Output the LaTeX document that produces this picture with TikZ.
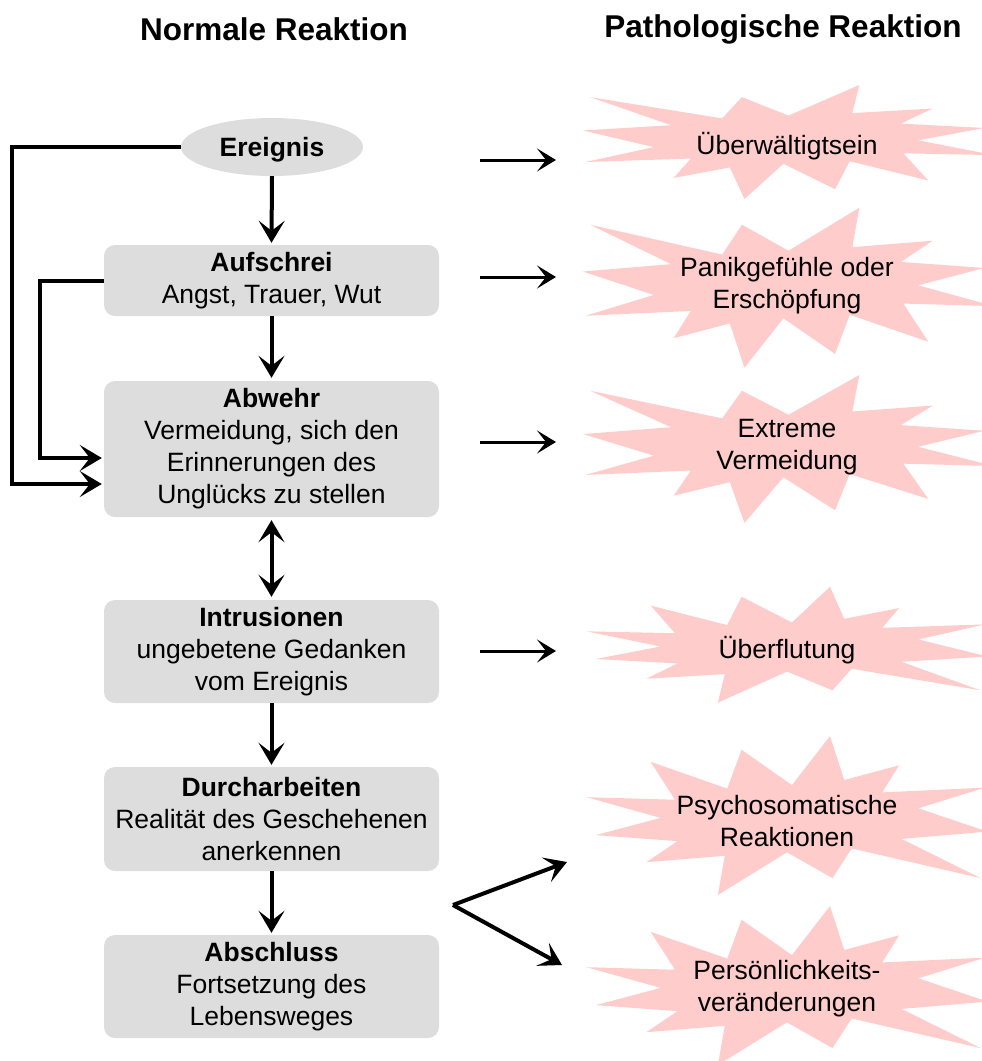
\documentclass[tikz,border=0pt]{standalone}
\usepackage{fontspec}
\setmainfont{Liberation Sans}
\usetikzlibrary{arrows.meta,shapes.geometric}
\definecolor{boxgray}{RGB}{221,221,221}
\definecolor{burstpink}{RGB}{255,204,204}
\tikzset{
  burst/.pic={\fill[burstpink] (108,58) -- (145.22,0) -- (141.55,53.25) -- (183.80,44.57) -- (167.02,73.15) -- (210.97,81.37) -- (176.07,104.75) -- (216,132.90) -- (168.37,129.42) -- (181.45,180.95) -- (140.20,144.57) -- (132.47,197.37) -- (105.32,149.35) -- (84.85,216) -- (77.15,156.27) -- (47.62,176.17) -- (56.67,139.37) -- (1.35,145.87) -- (37.22,117.75) -- (0,86.15) -- (46.27,76.17) -- (3.70,22.95) -- (73.12,63.20) -- (83.52,22.95) -- cycle;},
  stagebox/.style={rectangle, rounded corners=11pt, fill=boxgray, inner sep=0pt, minimum width=335pt, align=center, font=\fontsize{26.5}{32}\selectfont},
  bursttext/.style={align=center, inner sep=0pt, font=\fontsize{26.5}{32}\selectfont},
  header/.style={inner sep=0pt, font=\fontsize{31.5}{36}\selectfont\bfseries},
  flow/.style={line width=4pt, -{Stealth[length=22pt,width=26pt,inset=10pt]}},
  side/.style={line width=3pt, -{Stealth[length=19pt,width=23pt,inset=9pt]}},
}
\begin{document}
\begin{tikzpicture}[x=1pt,y=-1pt]
\useasboundingbox (0,0) rectangle (982,1061);
\clip (0,0) rectangle (982,1061);

% headers
\node[header] (h1) at (274,29) {Normale Reaktion};
\node[header] (h2) at (783,29) {Pathologische Reaktion};

% starbursts
\pic[shift={(583,85)}, xscale=1.90278, yscale=0.52778] {burst};
\pic[shift={(583,207.7)}, xscale=1.90278, yscale=0.74074] {burst};
\pic[shift={(583,375)}, xscale=1.90278, yscale=0.68519] {burst};
\pic[shift={(987.5,702.7)}, xscale=-1.85648, yscale=-0.53704] {burst};
\pic[shift={(987.5,895)}, xscale=-1.85648, yscale=-0.73611] {burst};
\pic[shift={(987.5,1065)}, xscale=-1.85648, yscale=-0.73611] {burst};

\node[bursttext] (b1) at (787,146) {Überwältigtsein};
\node[bursttext] (b2) at (787,286) {Panikgefühle oder\\Erschöpfung};
\node[bursttext] (b3) at (787,447) {Extreme\\Vermeidung};
\node[bursttext] (b4) at (787,650) {Überflutung};
\node[bursttext] (b5) at (787,821) {Psychosomatische\\Reaktionen};
\node[bursttext] (b6) at (787,989) {Persönlichkeits-\\veränderungen};

% left column
\node[ellipse, fill=boxgray, minimum width=182pt, minimum height=58pt, inner sep=0pt] (ereignis) at (272,147) {};
\node[inner sep=0pt, font=\fontsize{26.5}{32}\selectfont\bfseries] (ereignistext) at (272,150) {Ereignis};
\node[stagebox, minimum height=71pt] (aufschrei) at (271.5,280.5) {\textbf{Aufschrei}\\Angst, Trauer, Wut};
\node[stagebox, minimum height=136pt] (abwehr) at (271.5,449) {\textbf{Abwehr}\\Vermeidung, sich den\\Erinnerungen des\\Unglücks zu stellen};
\node[stagebox, minimum height=103pt] (intrusionen) at (271.5,651.5) {\textbf{Intrusionen}\\ungebetene Gedanken\\vom Ereignis};
\node[stagebox, minimum height=104pt] (durch) at (271.5,819) {\textbf{Durcharbeiten}\\Realität des Geschehenen\\anerkennen};
\node[stagebox, minimum height=103pt] (abschluss) at (271.5,986.5) {\textbf{Abschluss}\\Fortsetzung des\\Lebensweges};

% vertical flow
\draw[flow] (ereignis.south) -- ([yshift=2pt]aufschrei.north);
\draw[flow] (aufschrei.south) -- ([yshift=3pt]abwehr.north);
\draw[line width=4pt, {Stealth[length=22pt,width=26pt,inset=10pt]}-{Stealth[length=22pt,width=26pt,inset=10pt]}] ([yshift=-3pt]abwehr.south) -- ([yshift=3pt]intrusionen.north);
\draw[flow] (intrusionen.south) -- ([yshift=2pt]durch.north);
\draw[flow] (durch.south) -- ([yshift=2pt]abschluss.north);

% feedback loops
\draw[flow] (ereignis.west) -- ++(-169,0) |- ([xshift=-2pt,yshift=-35pt]abwehr.west);
\draw[flow] (aufschrei.west) -- ++(-64,0) |- ([xshift=-2pt,yshift=-9pt]abwehr.west);

% side arrows
\coordinate (s1) at (480,160); \coordinate (e1) at (556,160);
\coordinate (s2) at (480,277); \coordinate (e2) at (556,277);
\coordinate (s3) at (480,442); \coordinate (e3) at (556,442);
\coordinate (s4) at (480,651); \coordinate (e4) at (556,651);
\draw[side] (s1) -- (e1);
\draw[side] (s2) -- (e2);
\draw[side] (s3) -- (e3);
\draw[side] (s4) -- (e4);

% branch
\coordinate (br) at (453,905);
\coordinate (bu) at (567,862);
\coordinate (bd) at (562,965);
\draw[flow, line join=miter] (br) -- (bu);
\draw[flow, line join=miter] (br) -- (bd);
\end{tikzpicture}
\end{document}
